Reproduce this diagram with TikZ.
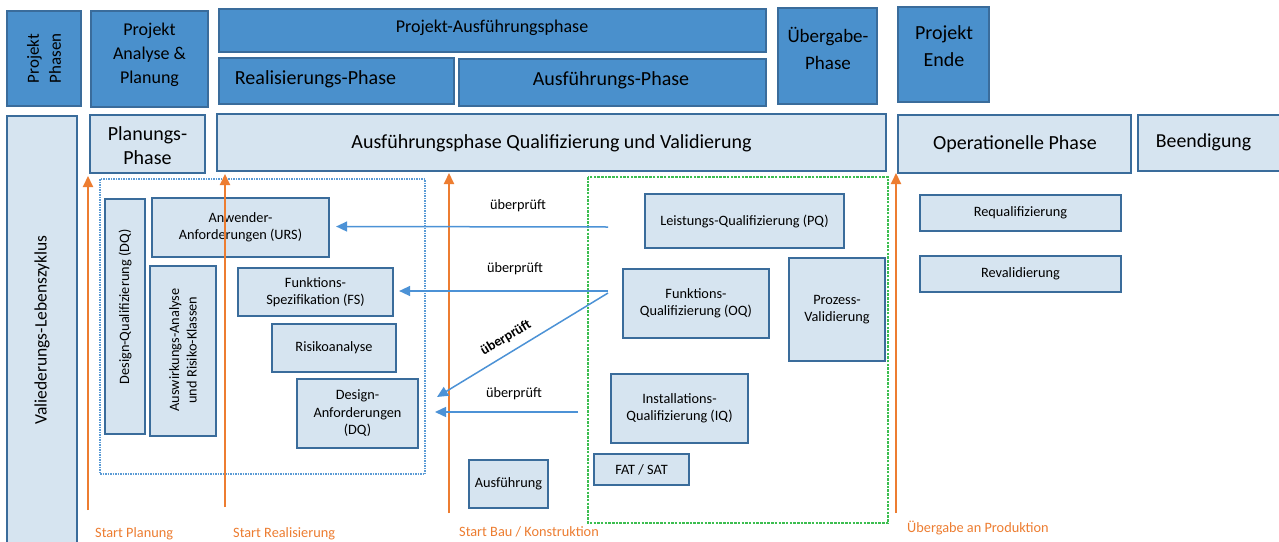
\documentclass[tikz,border=0pt]{standalone}
\usepackage{fontspec}
\setmainfont{Carlito}
\usetikzlibrary{arrows.meta,calc}
\definecolor{dkfill}{RGB}{74,144,204}
\definecolor{bord}{RGB}{58,108,155}
\definecolor{ltfill}{RGB}{214,228,240}
\definecolor{arrblue}{RGB}{76,146,214}
\definecolor{orng}{RGB}{237,125,49}
\definecolor{dotblue}{RGB}{91,155,213}
\definecolor{dgreen}{RGB}{60,190,80}
\begin{document}
\begin{tikzpicture}[x=1pt,y=-1pt,
  dkbox/.style={draw=bord,fill=dkfill,line width=2pt,inner sep=0pt},
  ltbox/.style={draw=bord,fill=ltfill,line width=2pt,inner sep=0pt},
  smbox/.style={draw=bord,fill=ltfill,line width=2.2pt,inner sep=0pt,align=center,font=\fontsize{14.3}{17.5}\selectfont},
  txt/.style={inner sep=0pt,align=center},
  chk/.style={draw=arrblue,line width=1.5pt,-{Triangle[length=11pt,width=10pt]}},
  startarr/.style={draw=orng,line width=2pt,-{Triangle[length=11pt,width=10pt]}},
  olabel/.style={inner sep=0pt,anchor=west,text=orng,font=\fontsize{14.3}{17}\selectfont},
  chklabel/.style={inner sep=0pt,font=\fontsize{14.3}{17}\selectfont}]
\useasboundingbox (0,0) rectangle (1279,541);
\fill[white] (0,0) rectangle (1279,541);

% dotted / dashed groups
\draw[dotblue,line width=1.2pt,dash pattern=on 1.5pt off 1pt] (100,179) rectangle (425,474);
\draw[dgreen,line width=1.1pt,dash pattern=on 2.5pt off 1.2pt] (588,177) rectangle (888,523);

% top row
\node[dkbox,minimum width=74pt,minimum height=95pt] (phasen) at (44,58.5) {};
\node[txt,rotate=90,font=\fontsize{17}{22}\selectfont] (phasentxt) at (44,58.5) {Projekt\\Phasen};
\node[dkbox,minimum width=117pt,minimum height=96pt] (analyse) at (149.5,59) {};
\node[txt,font=\fontsize{18}{24}\selectfont] (analysetxt) at (149.5,55) {Projekt\\Analyse \&\\Planung};
\node[dkbox,minimum width=547pt,minimum height=43pt] (pausf) at (492.5,30.5) {};
\node[txt,font=\fontsize{18}{20}\selectfont] (pausftxt) at (492,28) {Projekt-Ausführungsphase};
\node[dkbox,minimum width=235pt,minimum height=46pt] (real) at (336.5,81) {};
\node[txt,font=\fontsize{20}{22}\selectfont] (realtxt) at (315.5,79) {Realisierungs-Phase};
\node[dkbox,minimum width=307pt,minimum height=47pt] (ausfph) at (612.5,82.5) {};
\node[txt,font=\fontsize{20}{22}\selectfont] (ausfphtxt) at (611,80) {Ausführungs-Phase};
\node[dkbox,minimum width=99pt,minimum height=96pt] (ueberg) at (827.5,56) {};
\node[txt,font=\fontsize{19}{27}\selectfont] (uebergtxt) at (828,48.5) {Übergabe-\\Phase};
\node[dkbox,minimum width=91pt,minimum height=95pt] (ende) at (943.5,54.5) {};
\node[txt,font=\fontsize{20}{27}\selectfont] (endetxt) at (944,46.5) {Projekt\\Ende};

% second row
\node[ltbox,minimum width=70pt,minimum height=440pt,anchor=north] (leben) at (42,115) {};
\node[txt,rotate=90,font=\fontsize{17.5}{20}\selectfont] (lebentxt) at (42,330) {Valiederungs-Lebenszyklus};
\node[ltbox,minimum width=115pt,minimum height=58pt] (planph) at (147.5,144) {};
\node[txt,font=\fontsize{20}{24}\selectfont] (planphtxt) at (147.5,146) {Planungs-\\Phase};
\node[ltbox,minimum width=669pt,minimum height=57pt] (ausfqv) at (551.5,142.5) {};
\node[txt,font=\fontsize{20}{22}\selectfont] (ausfqvtxt) at (551.5,143) {Ausführungsphase Qualifizierung und Validierung};
\node[ltbox,minimum width=233pt,minimum height=58pt] (oper) at (1014.5,144) {};
\node[txt,font=\fontsize{20}{22}\selectfont] (opertxt) at (1015,144) {Operationelle Phase};
\node[ltbox,minimum width=146pt,minimum height=56pt,anchor=west] (beend) at (1137,143) {};
\node[txt,font=\fontsize{19.8}{22}\selectfont] (beendtxt) at (1203.5,142) {Beendigung};

% inner boxes left group
\node[smbox,minimum width=40pt,minimum height=235pt] (dq) at (125,316.5) {};
\node[txt,rotate=90,font=\fontsize{14.3}{17.5}\selectfont] (dqtxt) at (125,307) {Design-Qualifizierung (DQ)};
\node[smbox,minimum width=66pt,minimum height=170pt] (ausw) at (183,351) {};
\node[txt,rotate=90,font=\fontsize{14.3}{17.5}\selectfont] (auswtxt) at (183,350) {Auswirkungs-Analyse\\und Risiko-Klassen};
\node[smbox,minimum width=177pt,minimum height=59pt] (urs) at (240.5,227.5) {Anwender-\\Anforderungen (URS)};
\node[smbox,minimum width=155pt,minimum height=48pt] (fs) at (315.5,292) {Funktions-\\Spezifikation (FS)};
\node[smbox,minimum width=124pt,minimum height=48pt] (risk) at (334,348) {Risikoanalyse};
\node[smbox,minimum width=121pt,minimum height=69pt] (dreq) at (357.5,413.5) {Design-\\Anforderungen\\(DQ)};

% inner boxes right group
\node[smbox,minimum width=199pt,minimum height=54pt] (pq) at (744.5,221) {Leistungs-Qualifizierung (PQ)};
\node[smbox,minimum width=146pt,minimum height=69pt] (oq) at (696,303.5) {Funktions-\\Qualifizierung (OQ)};
\node[smbox,minimum width=96pt,minimum height=103pt] (pv) at (837,309.5) {Prozess-\\Validierung};
\node[smbox,minimum width=137pt,minimum height=69pt] (iq) at (679.5,408.5) {Installations-\\Qualifizierung (IQ)};
\node[smbox,minimum width=95pt,minimum height=31pt] (fat) at (641.5,469.5) {FAT / SAT};
\node[smbox,minimum width=79pt,minimum height=48pt] (ausfg) at (508.5,484) {Ausführung};
\node[smbox,minimum width=201pt,minimum height=36pt] (requal) at (1020.5,213) {Requalifizierung};
\node[smbox,minimum width=201pt,minimum height=36pt] (reval) at (1020.5,274) {Revalidierung};

% orange start arrows
\coordinate (sp0) at (88,510);   \coordinate (sp1) at (88,176);
\coordinate (sr0) at (225,507);  \coordinate (sr1) at (225,174);
\coordinate (sb0) at (449,513);  \coordinate (sb1) at (449,173);
\coordinate (su0) at (896,513);  \coordinate (su1) at (896,173);
\draw[startarr] (sp0) -- (sp1);
\draw[startarr] (sr0) -- (sr1);
\draw[startarr] (sb0) -- (sb1);
\draw[startarr] (su0) -- (su1);
\node[olabel] (lp) at (95,534) {Start Planung};
\node[olabel] (lr) at (233,534) {Start Realisierung};
\node[olabel] (lb) at (459,532) {Start Bau / Konstruktion};
\node[olabel] (lu) at (907,528) {Übergabe an Produktion};

% blue check arrows
\coordinate (c1) at (608,227);
\coordinate (c2) at (608,291);
\coordinate (c3) at (608,293);
\coordinate (c4) at (578,412);
\coordinate (t3) at (437,397);
\coordinate (t4) at (435,412);
\draw[chk] (c1) -- ($(urs.east)+(6,-1)$);
\draw[chk] (c2) -- ($(fs.east)+(5,-1)$);
\draw[chk] (c3) -- (t3);
\draw[chk] (c4) -- (t4);
\node[chklabel] (k1) at (518,206) {überprüft};
\node[chklabel] (k2) at (515,269) {überprüft};
\node[chklabel,rotate=31,font=\fontsize{14}{17}\selectfont\bfseries] (k3) at (506,338) {überprüft};
\node[chklabel] (k4) at (514,394) {überprüft};
\end{tikzpicture}
\end{document}
